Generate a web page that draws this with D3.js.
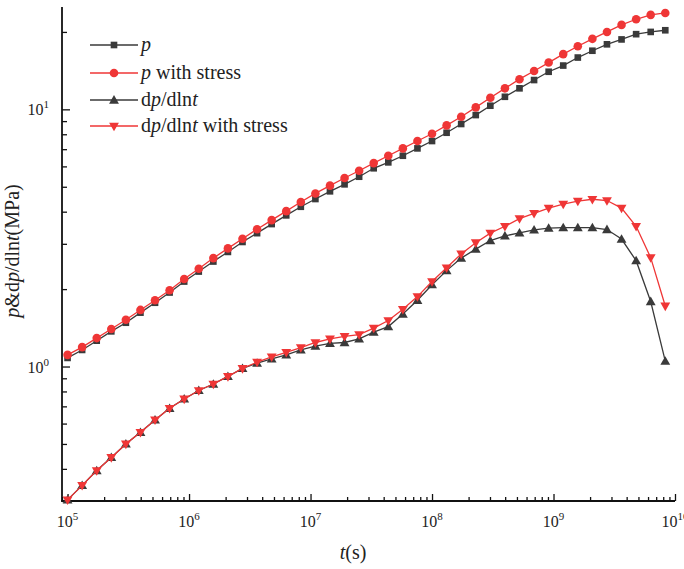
<!DOCTYPE html>
<html>
<head>
<meta charset="utf-8">
<script src="https://cdn.jsdelivr.net/npm/d3@7"></script>
<style>
  html, body { margin: 0; padding: 0; background: #fff; }
  svg { display: block; font-family: "Liberation Serif", "Times New Roman", serif; }
</style>
</head>
<body>
<svg id="chart" width="684" height="569"></svg>
<script>
// ---- data ----
const logStart = 5;      // first sample at 10^5 s
const logStep = 0.12;    // samples evenly spaced in log10(t)
const timeExp = d3.range(42).map(k => logStart + logStep * k);

const pNoStress = [1.08,1.16,1.26,1.37,1.48,1.62,1.77,1.94,2.14,2.34,2.56,2.79,3.05,3.30,3.58,3.87,4.18,4.48,4.80,5.11,5.47,5.90,6.22,6.60,7.05,7.53,8.11,8.77,9.50,10.33,11.19,12.07,13.0,14.0,14.8,15.9,16.9,17.9,18.7,19.6,20.0,20.3];
const pStress = [1.11,1.19,1.29,1.40,1.52,1.66,1.81,1.98,2.19,2.40,2.64,2.88,3.14,3.42,3.71,4.02,4.36,4.71,5.05,5.41,5.77,6.18,6.60,7.05,7.53,8.04,8.66,9.36,10.18,11.1,12.07,13.1,14.1,15.2,16.4,17.6,18.8,20.0,21.3,22.4,23.3,23.7];
const dpNoStress = [0.303,0.345,0.394,0.443,0.50,0.555,0.62,0.688,0.748,0.807,0.855,0.915,0.983,1.03,1.07,1.11,1.16,1.20,1.23,1.24,1.28,1.36,1.43,1.60,1.81,2.08,2.36,2.64,2.86,3.09,3.22,3.31,3.40,3.45,3.47,3.47,3.47,3.41,3.13,2.58,1.79,1.05];
const dpStress = [0.303,0.345,0.394,0.443,0.50,0.555,0.62,0.688,0.748,0.807,0.855,0.915,0.983,1.04,1.09,1.135,1.185,1.24,1.28,1.31,1.33,1.41,1.51,1.67,1.87,2.14,2.42,2.74,3.03,3.30,3.51,3.76,3.94,4.13,4.28,4.40,4.47,4.42,4.13,3.51,2.65,1.72];

const seriesNames = ["p", "p with stress", "dp/dlnt", "dp/dlnt with stress"];
const xTickExps = [5, 6, 7, 8, 9, 10];
const yTickExps = [0, 1];

// ---- layout ----
const svg = d3.select("#chart");
const plotL = 62, plotR = 675, plotT = 7, plotB = 501;
const x = d3.scaleLog().domain([9e4, 1e10]).range([plotL, plotR]);
const y = d3.scaleLog().domain([0.3, 25]).range([plotB, plotT]);

const black = "#3a3a3a", red = "#ef3636";
const series = [
  { name: seriesNames[0], values: pNoStress, color: black, sym: d3.symbolSquare, size: 44, rot: 0 },
  { name: seriesNames[1], values: pStress, color: red, sym: d3.symbolCircle, size: 58, rot: 0 },
  { name: seriesNames[2], values: dpNoStress, color: black, sym: d3.symbolTriangle, size: 42, rot: 0 },
  { name: seriesNames[3], values: dpStress, color: red, sym: d3.symbolTriangle, size: 42, rot: 180 }
];

// ---- axes ----
const xAll = [];
for (let e = 4; e <= 9; e++) for (let m = 1; m <= 9; m++) { const v = m * Math.pow(10, e); if (v >= 9e4 && v <= 1e10) xAll.push(v); }
xAll.push(1e10);
const yAll = [];
for (let e = -1; e <= 1; e++) for (let m = 1; m <= 9; m++) { const v = m * Math.pow(10, e); if (v >= 0.3 - 1e-9 && v <= 25) yAll.push(v); }

const isMajor = v => Math.abs(Math.log10(v) - Math.round(Math.log10(v))) < 1e-9;

const gx = svg.append("g").attr("transform", `translate(0,${plotB})`)
  .call(d3.axisBottom(x).tickValues(xAll).tickSizeInner(0).tickSizeOuter(0).tickFormat(""));
gx.select(".domain").remove();
gx.selectAll(".tick line").attr("y2", d => isMajor(d) ? -7 : -4).attr("stroke", "#111").attr("stroke-width", 1.3);

const gy = svg.append("g").attr("transform", `translate(${plotL},0)`)
  .call(d3.axisLeft(y).tickValues(yAll).tickSizeInner(0).tickSizeOuter(0).tickFormat(""));
gy.select(".domain").remove();
gy.selectAll(".tick line").attr("x2", d => isMajor(d) ? 8 : 5).attr("stroke", "#111").attr("stroke-width", 1.3);

svg.append("line").attr("x1", plotL).attr("x2", plotL).attr("y1", plotT).attr("y2", plotB + 0.8).attr("stroke", "#111").attr("stroke-width", 1.8);
svg.append("line").attr("x1", plotL - 0.8).attr("x2", plotR).attr("y1", plotB).attr("y2", plotB).attr("stroke", "#111").attr("stroke-width", 1.8);

// tick labels
xTickExps.forEach(e => {
  const t = svg.append("text").attr("x", x(Math.pow(10, e))).attr("y", plotB + 26)
    .attr("text-anchor", "middle").attr("font-size", 16).attr("fill", "#222");
  t.append("tspan").text("10");
  t.append("tspan").attr("font-size", 11).attr("dy", -7).text(e);
});
yTickExps.forEach(e => {
  const t = svg.append("text").attr("x", plotL - 13).attr("y", y(Math.pow(10, e)) + 6)
    .attr("text-anchor", "end").attr("font-size", 16).attr("fill", "#222");
  t.append("tspan").text("10");
  t.append("tspan").attr("font-size", 11).attr("dy", -7).text(e);
});

// axis titles
const xt = svg.append("text").attr("x", 353).attr("y", 559).attr("text-anchor", "middle").attr("font-size", 20).attr("fill", "#222");
xt.append("tspan").attr("font-style", "italic").text("t");
xt.append("tspan").text("(s)");

const yt = svg.append("text").attr("transform", "translate(19,251) rotate(-90)").attr("text-anchor", "middle").attr("font-size", 20).attr("fill", "#222");
yt.append("tspan").attr("font-style", "italic").text("p");
yt.append("tspan").text("&d");
yt.append("tspan").attr("font-style", "italic").text("p");
yt.append("tspan").text("/dln");
yt.append("tspan").attr("font-style", "italic").text("t");
yt.append("tspan").text("(MPa)");

// ---- series ----
const line = d3.line().x((d, i) => x(Math.pow(10, timeExp[i]))).y(d => y(d));
const triOff = s => s.sym === d3.symbolTriangle ? (s.rot ? -0.5 : 0.8) : 0;
series.forEach(s => {
  const g = svg.append("g");
  g.append("path").datum(s.values).attr("d", line).attr("fill", "none").attr("stroke", s.color).attr("stroke-width", 1.3);
  g.selectAll("path.m").data(s.values).enter().append("path").attr("class", "m")
    .attr("d", d3.symbol().type(s.sym).size(s.size))
    .attr("transform", (d, i) => `translate(${x(Math.pow(10, timeExp[i]))},${y(d) + triOff(s)}) rotate(${s.rot})`)
    .attr("fill", s.color);
});

// ---- legend ----
const legY = [45, 73, 100, 126];
series.forEach((s, i) => {
  const yy = legY[i];
  svg.append("line").attr("x1", 90).attr("x2", 138).attr("y1", yy).attr("y2", yy).attr("stroke", s.color).attr("stroke-width", 1.3);
  svg.append("path").attr("d", d3.symbol().type(s.sym).size(s.size))
    .attr("transform", `translate(114,${yy + triOff(s)}) rotate(${s.rot})`).attr("fill", s.color);
  const t = svg.append("text").attr("x", 141).attr("y", yy + 6).attr("font-size", 20).attr("fill", "#222");
  if (i === 0) { t.append("tspan").attr("font-style", "italic").text("p"); }
  else if (i === 1) { t.append("tspan").attr("font-style", "italic").text("p"); t.append("tspan").text(" with stress"); }
  else {
    t.append("tspan").text("d");
    t.append("tspan").attr("font-style", "italic").text("p");
    t.append("tspan").text("/dln");
    t.append("tspan").attr("font-style", "italic").text("t");
    if (i === 3) t.append("tspan").text(" with stress");
  }
});
</script>
</body>
</html>
